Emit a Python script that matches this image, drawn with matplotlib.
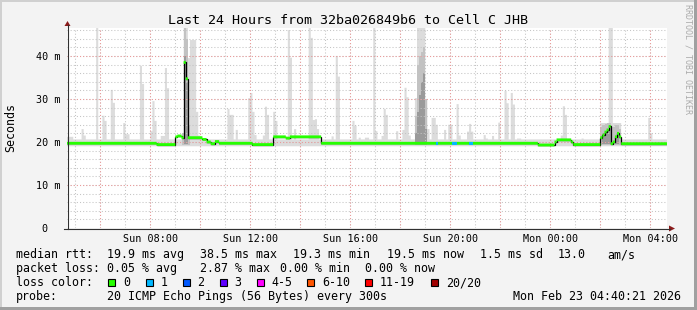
import numpy as np
import matplotlib
matplotlib.use("Agg")
import matplotlib.pyplot as plt
from matplotlib.patches import Rectangle, Polygon
from matplotlib.lines import Line2D

W, H = 697, 310
N_STEPS = 288  # 5-minute steps, 24 h starting Sun 04:40

# ---------------- data ----------------
title = "Last 24 Hours from 32ba026849b6 to Cell C JHB"

# smoke: highest ping per 5-min step (ms); steps not listed use the default
smoke_default_top = 20.6
smoke_default_bottom = 19.0
smoke_steps = [0, 1, 2, 7, 8, 14, 17, 18, 21, 22, 27, 28, 29, 35, 36, 40, 41, 42,
               45, 46, 47, 48, 56, 57, 58, 59, 60, 61, 62, 63, 77, 78, 79, 81,
               87, 88, 89, 90, 94, 95, 96, 99, 100, 106, 107, 109, 116, 117, 118,
               119, 120, 127, 129, 130, 137, 138, 140, 143, 144, 147, 148, 151,
               152, 153, 158, 161, 162, 163, 164, 167, 168, 169, 170, 171, 172,
               173, 175, 176, 177, 181, 183, 184, 187, 188, 192, 193, 194, 200,
               201, 204, 207, 210, 211, 213, 214, 216, 217, 237, 238, 239, 247,
               256, 257, 258, 259, 260, 261, 262, 263, 264, 265, 279, 280]
smoke_tops = [21.2, 21.2, 21.2, 23.0, 21.5, 46.6, 26.1, 24.9, 32.1, 29.1, 24.4, 21.8, 21.8,
              37.7, 33.5, 22.5, 29.5, 24.9, 21.4, 21.4, 37.2, 32.5, 46.6, 46.6, 39.5,
              43.7, 43.7, 43.7, 27.0, 21.5, 27.7, 26.3, 26.3, 22.8, 30.2, 31.4, 27.0,
              21.6, 21.5, 28.2, 26.3, 27.0, 24.9, 46.0, 39.6, 23.0, 46.5, 44.2, 25.1,
              25.3, 23.0, 21.3, 40.0, 35.2, 24.9, 23.8, 21.0, 21.0, 21.0, 46.7, 22.5,
              21.4, 27.7, 26.3, 22.5, 22.8, 32.6, 30.4, 21.5, 30.2, 46.6, 46.6, 46.6,
              46.6, 30.0, 23.0, 25.6, 25.6, 24.0, 22.8, 24.0, 24.0, 28.8, 21.5, 22.4,
              24.2, 22.4, 21.6, 20.8, 21.4, 24.5, 31.9, 29.0, 31.4, 28.7, 20.8, 20.8,
              21.5, 28.3, 26.3, 20.8, 24.4, 24.4, 24.4, 24.4, 46.6, 46.6, 24.4, 24.4,
              24.4, 24.4, 25.6, 22.0]

# darker smoke (inner pings)
mid_steps = [55, 56, 57, 58, 167, 168, 169, 170, 171, 172, 256, 257, 258, 259, 260, 261,
             262, 263, 264, 265]
mid_tops = [22.0, 46.6, 44.0, 24.0, 26.0, 38.0, 40.0, 41.0, 42.0, 30.0, 23.5, 24.0, 24.2,
            24.4, 24.4, 23.5, 23.5, 24.0, 24.0, 23.0]
dark_steps = [56, 57, 167, 168, 169, 170, 171, 172, 257, 258, 259, 260, 263, 264]
dark_tops = [40.0, 34.0, 22.0, 27.0, 31.0, 34.0, 36.0, 23.0, 22.0, 22.5, 23.0, 23.5,
             21.5, 22.0]

# median RTT as run-length segments: (first step, ms)
median_seg_start = [0, 43, 52, 53, 55, 56, 57, 58, 65, 67, 69, 71, 73, 89, 99, 105, 107,
                    122, 226, 234, 235, 242, 243, 256, 257, 258, 259, 260, 261, 262,
                    263, 264, 265, 266]
median_seg_value = [19.7, 19.4, 21.2, 21.4, 21.0, 38.5, 34.7, 21.0, 20.6, 20.0, 19.6, 20.1,
                    19.7, 19.4, 21.2, 20.9, 21.2, 19.7, 19.3, 20.0, 20.5, 20.0, 19.4,
                    21.0, 21.6, 22.3, 22.8, 23.6, 19.6, 20.0, 21.2, 22.0, 21.2, 19.6]
loss1_steps = [177, 185, 186, 193, 194]

x_minor_hours = [0.333 + i for i in range(24)]
x_major_hours = [1.333 + 2 * i for i in range(12)]
x_label_hours = [3.333, 7.333, 11.333, 15.333, 19.333, 23.333]
x_labels = ["Sun 08:00", "Sun 12:00", "Sun 16:00", "Sun 20:00", "Mon 00:00", "Mon 04:00"]
y_ticks = [0, 10, 20, 30, 40]
y_labels = ["0", "10 m", "20 m", "30 m", "40 m"]
y_minor = list(range(2, 47, 2))

legend_rows = [
    ["median rtt:", "19.9 ms avg", "38.5 ms max", "19.3 ms min", "19.5 ms now", "1.5 ms sd", "13.0", "am/s"],
    ["packet loss:", "0.05 % avg", "2.87 % max", "0.00 % min", "0.00 % now"],
]
legend_x = [[16, 107, 200, 293, 386.5, 480, 558, 607], [16, 107, 200, 280, 365]]
loss_labels = ["0", "1", "2", "3", "4-5", "6-10", "11-19", "20/20"]
loss_colors = ["#26ff00", "#00b8ff", "#0059ff", "#5e00ff", "#ff00ff", "#ff5500", "#ff0000", "#a10000"]
loss_box_x = [108, 145.5, 182.5, 219.5, 256.5, 307, 365, 431]
probe_text = "20 ICMP Echo Pings (56 Bytes) every 300s"
stamp_text = "Mon Feb 23 04:40:21 2026"

# ---------------- drawing ----------------
MONO = "DejaVu Sans Mono"
plt.rcParams["font.family"] = MONO

fig = plt.figure(figsize=(W / 100, H / 100), dpi=100)
fig.patch.set_facecolor("#f3f3f3")


def fx(px):
    return px / W


def fy(py):
    return 1 - py / H


ax = fig.add_axes([fx(67), fy(228), 600 / W, 200 / H])
ax.set_facecolor("white")
ax.set_xlim(0, 24)
ax.set_ylim(0, 46.5)
for s in ax.spines.values():
    s.set_visible(False)

edges = np.arange(N_STEPS + 1) / 12.0

top = np.full(N_STEPS, smoke_default_top)
top[smoke_steps] = smoke_tops
bottom = np.full(N_STEPS, smoke_default_bottom)
ax.stairs(top, edges, baseline=bottom, fill=True, color="#dcdcdc", lw=0, zorder=1)

ms = np.array(mid_steps)
ax.bar(ms / 12.0, np.array(mid_tops) - 19.3, bottom=19.3, width=1 / 12, align="edge",
       color="#c2c2c2", lw=0, zorder=2)
ds = np.array(dark_steps)
ax.bar(ds / 12.0, np.array(dark_tops) - 19.5, bottom=19.5, width=1 / 12, align="edge",
       color="#9a9a9a", lw=0, zorder=2.1)

# grid
dots = (0, (1, 2))
ax.vlines(x_minor_hours, 0, 46.5, colors="#c4c4c4", linewidth=0.75, linestyles=dots, zorder=3)
ax.hlines(y_minor, 0, 24, colors="#c4c4c4", linewidth=0.75, linestyles=dots, zorder=3)
ax.vlines(x_major_hours, 0, 46.5, colors="#ec9a9a", linewidth=0.75, linestyles=dots, zorder=3.1)
ax.hlines([10, 20, 30, 40], 0, 24, colors="#ec9a9a", linewidth=0.75, linestyles=dots, zorder=3.1)

# median
med = np.empty(N_STEPS)
bounds = median_seg_start + [N_STEPS]
for i, v in enumerate(median_seg_value):
    med[bounds[i]:bounds[i + 1]] = v
ax.stairs(med, edges, baseline=None, color="black", lw=0.9, zorder=4)
half = 0.33
ax.stairs(med + half, edges, baseline=med - half, fill=True, color="#26ff00", lw=0, zorder=5)
ls = np.array(loss1_steps)
ax.bar(ls / 12.0, 2 * half, bottom=med[ls] - half, width=1 / 12, align="edge",
       color="#00b8ff", lw=0, zorder=6)

# ticks
ax.set_xticks(x_label_hours)
ax.set_xticklabels(x_labels)
ax.set_yticks(y_ticks)
ax.set_yticklabels(y_labels)
ax.tick_params(axis="both", length=0, labelsize=7.3, colors="black")
ax.tick_params(axis="x", pad=4)
ax.tick_params(axis="y", pad=5)
ax.yaxis.get_major_ticks()[0].set_pad(5 + 8.8)

# axis lines and arrows
fig.add_artist(Line2D([fx(67.5), fx(67.5)], [fy(228.5), fy(25)], color="#303030", lw=0.8))
fig.add_artist(Line2D([fx(64), fx(670)], [fy(228.5), fy(228.5)], color="#303030", lw=0.8))
fig.add_artist(Polygon([[fx(64.5), fy(26)], [fx(70.5), fy(26)], [fx(67.5), fy(21)]],
                       closed=True, color="#8b1a1a", lw=0))
fig.add_artist(Polygon([[fx(669), fy(225.5)], [fx(669), fy(231.5)], [fx(675), fy(228.5)]],
                       closed=True, color="#8b1a1a", lw=0))

# texts
fig.text(fx(347.5), fy(24), title, ha="center", va="baseline", fontsize=9.6, color="black")
fig.text(fx(11), fy(128), "Seconds", rotation=90, ha="center", va="center", fontsize=8.4)
fig.text(fx(688), fy(4), "RRDTOOL / TOBI OETIKER", rotation=270, ha="center", va="top",
         fontsize=6.0, color="#ababab")

FS = 8.4
baselines = [258, 272, 286, 300]
for row, xs, yb in zip(legend_rows, legend_x, baselines):
    for t, x in zip(row, xs):
        fig.text(fx(x), fy(yb), t, ha="left", va="baseline", fontsize=FS)
fig.text(fx(16), fy(baselines[2]), "loss color:", ha="left", va="baseline", fontsize=FS)
for lab, col, bx in zip(loss_labels, loss_colors, loss_box_x):
    fig.add_artist(Rectangle((fx(bx), fy(286)), 7 / W, 7.5 / H, facecolor=col,
                             edgecolor="black", lw=0.8))
    fig.text(fx(bx + 15), fy(baselines[2]), lab, ha="left", va="baseline", fontsize=FS)
fig.text(fx(16), fy(baselines[3]), "probe:", ha="left", va="baseline", fontsize=FS)
fig.text(fx(107), fy(baselines[3]), probe_text, ha="left", va="baseline", fontsize=FS)
fig.text(fx(513), fy(baselines[3]), stamp_text, ha="left", va="baseline", fontsize=FS)

# frame (3d shade)
fig.add_artist(Rectangle((0, fy(2)), 1, 2 / H, color="#d0d0d0", lw=0))
fig.add_artist(Rectangle((0, 0), 2 / W, 1, color="#d0d0d0", lw=0))
fig.add_artist(Rectangle((fx(694), 0), 3 / W, 1, color="#a0a0a0", lw=0))
fig.add_artist(Rectangle((0, 0), 1, 3 / H, color="#a0a0a0", lw=0))

fig.savefig("out.png", dpi=100, facecolor=fig.get_facecolor())
